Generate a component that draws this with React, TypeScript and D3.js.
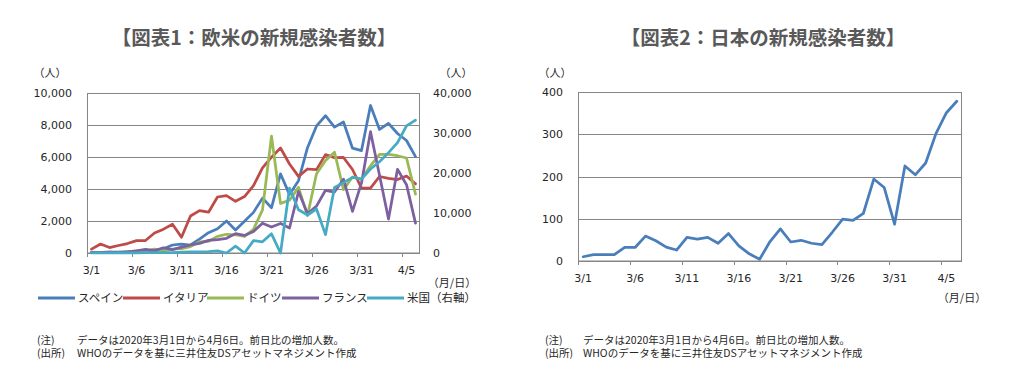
import React from "react";
import * as d3 from "d3";

const dates: string[] = [
  "3/1","3/2","3/3","3/4","3/5","3/6","3/7","3/8","3/9","3/10",
  "3/11","3/12","3/13","3/14","3/15","3/16","3/17","3/18","3/19","3/20",
  "3/21","3/22","3/23","3/24","3/25","3/26","3/27","3/28","3/29","3/30",
  "3/31","4/1","4/2","4/3","4/4","4/5","4/6",
];
const tickDates: string[] = ["3/1","3/6","3/11","3/16","3/21","3/26","3/31","4/5"];

const spain: number[] = [20,40,50,50,70,90,130,110,260,500,560,500,870,1270,1520,2000,1440,1990,2540,3430,2830,4950,3650,4520,6580,7940,8580,7870,8190,6550,6400,9220,7720,8100,7470,7030,6020];
const italy: number[] = [240,560,340,470,590,770,780,1250,1490,1800,980,2310,2650,2550,3500,3590,3230,3530,4210,5320,5990,6560,5560,4790,5250,5210,6150,5960,5970,5220,4050,4050,4780,4670,4590,4810,4320];
const germany: number[] = [50,20,30,50,70,130,130,240,130,250,270,400,700,730,1040,1170,1140,1040,1480,2700,7300,3100,3300,4100,2340,4950,5780,6300,3960,4750,4620,5450,6160,6170,6080,5940,3680];
const france: number[] = [40,30,60,20,70,140,230,150,330,210,370,500,600,790,840,920,1210,1100,1350,1860,1620,1850,1560,3840,2450,2930,3920,3810,4610,2600,4380,7580,4860,2120,5230,4270,1870];
const usa: number[] = [5,5,20,15,25,35,75,100,100,120,200,270,290,350,510,0,1700,0,3100,2800,4800,0,16200,10800,9500,11000,4600,16400,17600,18900,18500,21000,22800,25100,27600,31800,33200];
const japan: number[] = [10,15,15,15,32,32,59,48,33,26,56,52,56,42,65,36,17,4,46,76,45,49,42,39,68,99,96,113,194,174,87,225,204,232,302,351,378];

const leftTicks: number[] = [0, 2000, 4000, 6000, 8000, 10000];
const rightTicks: number[] = [0, 10000, 20000, 30000, 40000];
const japanTicks: number[] = [0, 100, 200, 300, 400];

const seriesNames: string[] = ["スペイン", "イタリア", "ドイツ", "フランス", "米国（右軸）"];
const seriesColors: string[] = ["#4A7EBB", "#BE4B48", "#98B954", "#7D60A0", "#46AAC5"];

const NUM_FONT = "'DejaVu Sans', Verdana, sans-serif";
const JP_FONT = "'Noto Sans CJK JP', sans-serif";
const GRID = "#868686";
const TXT = "#262626";

export default function App() {
  // Left chart
  const xL = d3.scaleBand<string>().domain(dates).range([87, 420]).padding(0);
  const yL = d3.scaleLinear().domain([0, 10000]).range([253, 93]);
  const yR = d3.scaleLinear().domain([0, 40000]).range([253, 93]);
  const cx = (s: d3.ScaleBand<string>, i: number) => (s(dates[i]) as number) + s.bandwidth() / 2;

  const lineL = (vals: number[]) =>
    d3.line<number>().x((_, i) => cx(xL, i)).y((v) => yL(v)).curve(d3.curveLinear)(vals) || "";
  const lineR = (vals: number[]) =>
    d3.line<number>().x((_, i) => cx(xL, i)).y((v) => yR(v))(vals) || "";

  // Right chart
  const xJ = d3.scaleBand<string>().domain(dates).range([578, 962]).padding(0);
  const yJ = d3.scaleLinear().domain([0, 400]).range([261, 92]);
  const lineJ = d3.line<number>().x((_, i) => cx(xJ, i)).y((v) => yJ(v))(japan) || "";

  const leftSeries = [spain, italy, germany, france];

  const legendX = [38, 123, 207, 282, 367];

  return (
    <svg
      width={1012}
      height={382}
      style={{ position: "absolute", left: 0, top: 0, background: "#fff" }}
    >
      <rect x={0} y={0} width={1012} height={382} fill="#fff" />
      {/* Titles */}
      <text x={254} y={45} textAnchor="middle" fontFamily={JP_FONT} fontWeight="bold" fontSize={19.5} fill="#595959">
        【図表1：欧米の新規感染者数】
      </text>
      <text x={763} y={45} textAnchor="middle" fontFamily={JP_FONT} fontWeight="bold" fontSize={19.5} fill="#595959">
        【図表2：日本の新規感染者数】
      </text>

      {/* ===== Left chart ===== */}
      <text x={50} y={77} textAnchor="middle" fontFamily={JP_FONT} fontSize={11} fill={TXT}>（人）</text>
      <text x={456} y={77} textAnchor="middle" fontFamily={JP_FONT} fontSize={11} fill={TXT}>（人）</text>
      {leftTicks.map((t) => (
        <g key={"lg" + t}>
          <line x1={87} x2={420} y1={Math.round(yL(t)) + 0.5} y2={Math.round(yL(t)) + 0.5} stroke={GRID} strokeWidth={1} />
          <text x={72} y={yL(t) + 4} textAnchor="end" fontFamily={NUM_FONT} fontSize={11} fill={TXT}>
            {d3.format(",")(t)}
          </text>
        </g>
      ))}
      {rightTicks.map((t) => (
        <text key={"rt" + t} x={433} y={yR(t) + 4} textAnchor="start" fontFamily={NUM_FONT} fontSize={11} fill={TXT}>
          {d3.format(",")(t)}
        </text>
      ))}
      <rect x={87.5} y={93.5} width={332} height={159.5} fill="none" stroke={GRID} strokeWidth={1} />
      {tickDates.map((d) => {
        const x0 = Math.round(xL(d) as number) + 0.5;
        return (
          <g key={"lx" + d}>
            <line x1={x0} x2={x0} y1={253} y2={257} stroke={GRID} strokeWidth={1} />
            <text x={(xL(d) as number) + xL.bandwidth() / 2} y={274} textAnchor="middle" fontFamily={NUM_FONT} fontSize={11} fill={TXT}>
              {d}
            </text>
          </g>
        );
      })}
      <text x={452} y={287} textAnchor="middle" fontFamily={JP_FONT} fontSize={11} fill={TXT}>（月/日）</text>

      {leftSeries.map((vals, k) => (
        <path key={"s" + k} d={lineL(vals)} fill="none" stroke={seriesColors[k]} strokeWidth={2.75} strokeLinejoin="round" strokeLinecap="round" />
      ))}
      <path d={lineR(usa)} fill="none" stroke={seriesColors[4]} strokeWidth={2.75} strokeLinejoin="round" strokeLinecap="round" />

      {/* Legend */}
      {seriesNames.map((n, k) => (
        <g key={"lg" + n}>
          <line x1={legendX[k]} x2={legendX[k] + 37} y1={298} y2={298} stroke={seriesColors[k]} strokeWidth={3} />
          <text x={legendX[k] + 40} y={302} fontFamily={JP_FONT} fontSize={11.5} fill={TXT}>{n}</text>
        </g>
      ))}

      {/* Notes left */}
      <text x={37} y={344} fontFamily={JP_FONT} fontSize={10.5} fill={TXT}>(注)</text>
      <text x={77} y={344} fontFamily={JP_FONT} fontSize={10.5} fill={TXT}>データは2020年3月1日から4月6日。前日比の増加人数。</text>
      <text x={37} y={357} fontFamily={JP_FONT} fontSize={10.5} fill={TXT}>(出所)</text>
      <text x={77} y={357} fontFamily={JP_FONT} fontSize={10.5} fill={TXT}>WHOのデータを基に三井住友DSアセットマネジメント作成</text>

      {/* ===== Right chart ===== */}
      <text x={555} y={77} textAnchor="middle" fontFamily={JP_FONT} fontSize={11} fill={TXT}>（人）</text>
      {japanTicks.map((t) => (
        <g key={"jg" + t}>
          <line x1={578} x2={962} y1={Math.round(yJ(t)) + 0.5} y2={Math.round(yJ(t)) + 0.5} stroke={GRID} strokeWidth={1} />
          <text x={563} y={yJ(t) + 4} textAnchor="end" fontFamily={NUM_FONT} fontSize={11} fill={TXT}>{t}</text>
        </g>
      ))}
      <rect x={578.5} y={92.5} width={383} height={168.5} fill="none" stroke={GRID} strokeWidth={1} />
      {tickDates.map((d) => {
        const x0 = Math.round(xJ(d) as number) + 0.5;
        return (
          <g key={"jx" + d}>
            <line x1={x0} x2={x0} y1={261} y2={265} stroke={GRID} strokeWidth={1} />
            <text x={(xJ(d) as number) + xJ.bandwidth() / 2} y={282} textAnchor="middle" fontFamily={NUM_FONT} fontSize={11} fill={TXT}>
              {d}
            </text>
          </g>
        );
      })}
      <text x={962} y={302} textAnchor="middle" fontFamily={JP_FONT} fontSize={11} fill={TXT}>（月/日）</text>
      <path d={lineJ} fill="none" stroke="#4A7EBB" strokeWidth={2.75} strokeLinejoin="round" strokeLinecap="round" />

      {/* Notes right */}
      <text x={545} y={344} fontFamily={JP_FONT} fontSize={10.5} fill={TXT}>(注)</text>
      <text x={583} y={344} fontFamily={JP_FONT} fontSize={10.5} fill={TXT}>データは2020年3月1日から4月6日。前日比の増加人数。</text>
      <text x={545} y={357} fontFamily={JP_FONT} fontSize={10.5} fill={TXT}>(出所)</text>
      <text x={583} y={357} fontFamily={JP_FONT} fontSize={10.5} fill={TXT}>WHOのデータを基に三井住友DSアセットマネジメント作成</text>
    </svg>
  );
}
